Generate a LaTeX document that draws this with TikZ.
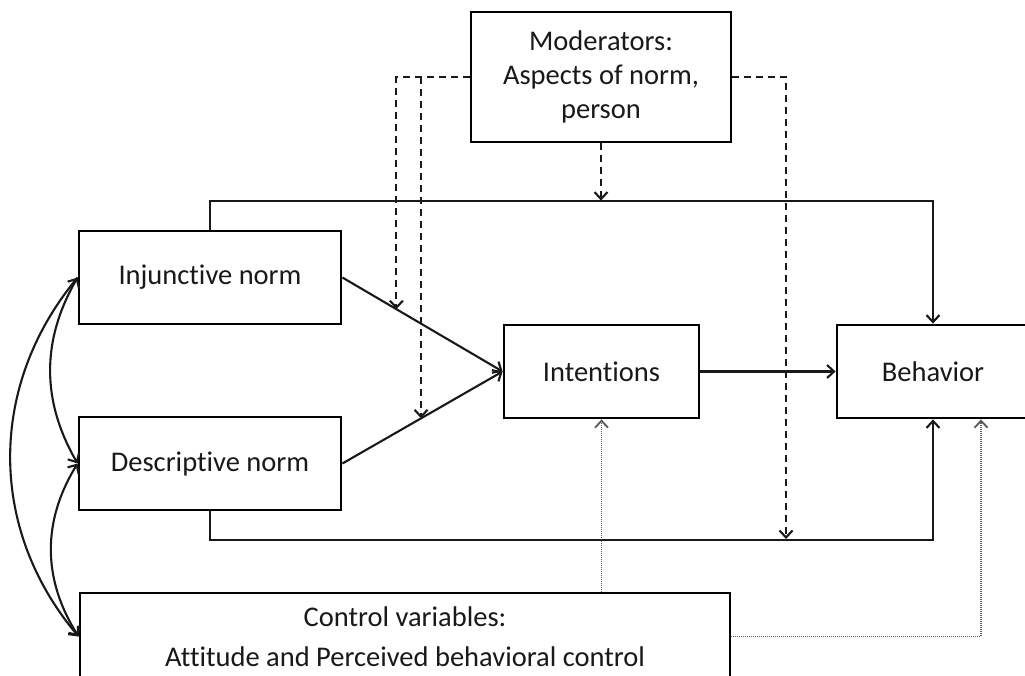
\documentclass[tikz,border=0pt]{standalone}
\usepackage{fontspec}
\setmainfont{Carlito}[Ligatures=NoCommon]
\usetikzlibrary{calc,arrows.meta}
\begin{document}
\begin{tikzpicture}[x=1pt,y=-1pt,
  box/.style={draw=black, line width=2.8pt, fill=white, inner sep=0pt, align=center,
    text=black!90, font=\fontsize{28.5}{34}\selectfont},
  conn/.style={line width=2.1pt, draw=black!90},
  arr/.style={-{Straight Barb[length=7pt,width=13pt]}},
  darr/.style={{Straight Barb[length=7pt,width=13pt]}-{Straight Barb[length=7pt,width=13pt]}},
  dashline/.style={line width=2.1pt, draw=black!90, dash pattern=on 7pt off 5pt},
  dotline/.style={line width=1.8pt, draw=black!65, dash pattern=on 1pt off 1pt}]
\useasboundingbox (0,0) rectangle (1025,675);
\clip (0,0) rectangle (1025,675);
\fill[white] (0,0) rectangle (1025,675);

\node[box, minimum width=262pt, minimum height=93pt] (inj) at (210,277.5) {Injunctive norm};
\node[box, minimum width=262pt, minimum height=93pt] (desc) at (210,463.5) {Descriptive norm};
\node[box, minimum width=195pt, minimum height=93pt] (int) at (601.5,371.5) {Intentions};
\node[box, minimum width=192pt, minimum height=93pt] (beh) at (933,371.5) {Behavior};
\node[box, minimum width=260pt, minimum height=130pt] (mod) at (601,77) {Moderators:\\Aspects of norm,\\person};
\node[box, minimum width=650pt, minimum height=87pt, font=\fontsize{28.5}{40}\selectfont] (ctrl) at (405,636.5) {Control variables:\\Attitude and Perceived behavioral control};

% main paths
\draw[conn, arr] (inj.east) -- (int.west);
\draw[conn, arr] (desc.east) -- (int.west);
\draw[conn, arr] (int.east) -- (beh.west);
\draw[conn, arr] (inj.north) -- ++(0,-29) coordinate (topl) -| (beh.north);
\draw[conn, arr] (desc.south) -- ++(0,29) coordinate (botl) -| (beh.south);

% correlations on the left
\draw[conn, darr] (inj.west) to[bend right=30] (desc.west);
\draw[conn, darr] (desc.west) to[bend right=32] (ctrl.west);
\draw[conn, arr] (inj.west) to[bend right=40] (ctrl.west);

% moderators (dashed)
\coordinate (mtop) at (topl -| mod.south);
\draw[dashline, arr] (mod.south) -- (mtop);
\coordinate (m1) at ($(inj.east)!0.337!(int.west)$);
\coordinate (m2) at ($(desc.east)!0.491!(int.west)$);
\draw[dashline, arr] (mod.west) -| (m1);
\draw[dashline, arr] (m2 |- mod.west) -- (m2);
\coordinate (m3) at (786,539);
\draw[dashline, arr] (mod.east) -| (m3);

% control variables (dotted)
\draw[dotline, arr] (int.south |- ctrl.north) -- (int.south);
\draw[dotline, arr] (ctrl.east) -| ([xshift=48pt]beh.south);
\end{tikzpicture}
\end{document}
